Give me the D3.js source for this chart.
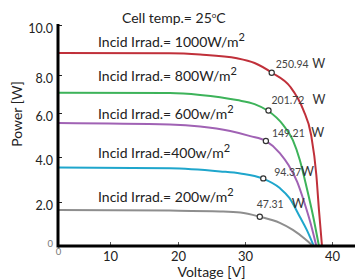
<!DOCTYPE html>
<html>
<head>
<meta charset="utf-8">
<script src="https://cdn.jsdelivr.net/npm/d3@7"></script>
<style>
  body { margin: 0; background: #fff; }
  svg { display: block; font-family: Lato, "Open Sans", sans-serif; }
</style>
</head>
<body>
<div id="chart"></div>
<script>
// tick values
var xTicks = [0, 10, 20, 30, 40];
var yTicks = [0, 2, 4, 6, 8, 10];

// curves: voltage [V] and value on the y axis
var v1000 = [0, 18.8, 23.3, 28.8, 31.1, 33.1, 35.2, 36.7, 37.6, 38.2, 38.5, 38.85];
var i1000 = [8.88, 8.87, 8.82, 8.67, 8.48, 8.09, 7.38, 6.16, 5.0, 3.2, 1.64, 0];
var v800 = [0, 18.8, 23.3, 28.8, 31.1, 32.6, 34.4, 35.5, 36.3, 37.1, 37.8, 38.5];
var i800 = [7.07, 7.05, 6.95, 6.68, 6.47, 6.13, 5.45, 4.77, 3.87, 2.62, 1.41, 0];
var v600 = [0, 18.8, 23.3, 27.8, 30.6, 32.4, 34.0, 35.0, 36.0, 36.8, 37.5, 38.2];
var i600 = [5.55, 5.48, 5.39, 5.18, 4.95, 4.73, 4.18, 3.64, 2.89, 2.0, 1.09, 0];
var v400 = [0, 18.8, 26.3, 29.3, 32.0, 34.0, 35.1, 36.3, 37.1, 37.9];
var i400 = [3.53, 3.50, 3.36, 3.27, 3.05, 2.62, 2.18, 1.33, 0.73, 0];
var v200 = [0, 18.8, 26.3, 29.3, 31.7, 34.0, 35.5, 36.9, 37.8];
var i200 = [1.64, 1.61, 1.57, 1.52, 1.33, 1.05, 0.73, 0.32, 0];

// maximum power points
var mppV = [33.07, 32.7, 32.4, 32.1, 31.7];
var mppI = [8.09, 6.13, 4.73, 3.05, 1.33];
var mppLabels = ["250.94", "201.72", "149.21", "94.37", "47.31"];

var irradLabels = ["Incid Irrad.= 1000W/m", "Incid Irrad.= 800W/m", "Incid Irrad.= 600w/m",
                   "Incid Irrad.=400w/m", "Incid Irrad.= 200w/m"];
var titleText = "Cell temp.= 25";

var curves = [[v1000, i1000], [v800, i800], [v600, i600], [v400, i400], [v200, i200]];
var colors = ["#c0303a", "#3db35a", "#a062b4", "#1fa6cc", "#8e8e8e"];

var W = 355, H = 279;
var svg = d3.select("#chart").append("svg")
            .attr("width", W)
            .attr("height", H);

// the original axes are not evenly spaced
var x = d3.scaleLinear().domain(xTicks).range([58, 110, 178, 245, 332]);
var y = d3.scaleLinear().domain(yTicks).range([246, 202, 157, 113, 75, 25]);

// y axis
var yAxis = svg.append("g")
               .attr("transform", "translate(" + x(0) + ",0)")
               .call(d3.axisLeft(y).tickValues(yTicks).tickSize(-4).tickPadding(5)
                       .tickFormat(function(d){ return d === 0 ? "0" : d3.format(".1f")(d); }));
yAxis.select(".domain").remove();
yAxis.selectAll("line").attr("stroke", "#222");
yAxis.selectAll("text").attr("font-size", 12.5).attr("fill", "#222")
     .attr("font-family", "Lato").attr("dy", "0.62em");
yAxis.selectAll(".tick").filter(function(d){ return d === 0; })
     .select("line").remove();
yAxis.selectAll(".tick").filter(function(d){ return d === 0; })
     .select("text").attr("font-size", 9.5).attr("fill", "#777").attr("dy", "0.1em");

// x axis
var xAxis = svg.append("g")
               .attr("transform", "translate(0," + y(0) + ")")
               .call(d3.axisBottom(x).tickValues(xTicks).tickSize(-4).tickPadding(6)
                       .tickFormat(d3.format("d")));
xAxis.select(".domain").remove();
xAxis.selectAll("line").attr("stroke", "#555");
xAxis.selectAll("text").attr("font-size", 13).attr("fill", "#222")
     .attr("font-family", "Lato").attr("dy", "0.68em");
xAxis.selectAll(".tick").filter(function(d){ return d === 0; })
     .select("line").remove();
xAxis.selectAll(".tick").filter(function(d){ return d === 0; })
     .select("text").attr("font-size", 9.5).attr("fill", "#777").attr("dy", "0.35em");

// curves
var line = d3.line()
             .x(function(d){ return x(d[0]); })
             .y(function(d){ return y(d[1]); })
             .curve(d3.curveMonotoneX);

svg.append("g").selectAll("path")
   .data(curves)
   .enter().append("path")
   .attr("d", function(c){ return line(d3.zip(c[0], c[1])); })
   .attr("fill", "none")
   .attr("stroke", function(c, i){ return colors[i]; })
   .attr("stroke-width", 2);

// thick axis lines
svg.append("line")
   .attr("x1", x(0)).attr("x2", W)
   .attr("y1", y(0)).attr("y2", y(0))
   .attr("stroke", "#000").attr("stroke-width", 3);
svg.append("line")
   .attr("x1", x(0)).attr("x2", x(0))
   .attr("y1", y(10) - 1).attr("y2", y(0) + 1.5)
   .attr("stroke", "#000").attr("stroke-width", 3);

// max power markers
svg.append("g").selectAll("circle")
   .data(mppV)
   .enter().append("circle")
   .attr("cx", function(d){ return x(d); })
   .attr("cy", function(d, i){ return y(mppI[i]); })
   .attr("r", 2.6)
   .attr("fill", "#fff")
   .attr("stroke", "#333")
   .attr("stroke-width", 1.2);

// value labels
var labelOff = [[4, -5], [3, -6.5], [6, -4], [11, -2.5], [-3, -9]];
var wGap = [3.5, 8, 6.5, 0, 8];
var vl = svg.append("g").selectAll("text")
            .data(mppLabels)
            .enter().append("text")
            .attr("x", function(d, i){ return x(mppV[i]) + labelOff[i][0]; })
            .attr("y", function(d, i){ return y(mppI[i]) + labelOff[i][1]; })
            .attr("font-size", 10.5)
            .attr("fill", "#444");
vl.append("tspan").text(function(d){ return d; });
vl.append("tspan")
  .attr("dx", function(d, i){ return wGap[i]; })
  .attr("font-size", 12.5)
  .attr("fill", "#333")
  .text("W");

// irradiance labels, baselines in pixels
var irradBase = [47, 81, 119, 158, 202];
var il = svg.append("g").selectAll("text")
            .data(irradLabels)
            .enter().append("text")
            .attr("x", 98)
            .attr("y", function(d, i){ return irradBase[i]; })
            .attr("font-size", 14)
            .attr("fill", "#222");
il.append("tspan").text(function(d){ return d; });
il.append("tspan").attr("dy", -6).attr("font-size", 11).text("2");

// title
var t = svg.append("text")
           .attr("x", 122)
           .attr("y", 23)
           .attr("font-size", 14)
           .attr("fill", "#222");
t.append("tspan").text(titleText);
t.append("tspan").attr("dy", -5).attr("font-size", 8).text("o");
t.append("tspan").attr("dy", 5).text("C");

// axis titles
svg.append("text")
   .attr("x", x(25))
   .attr("y", 277)
   .attr("text-anchor", "middle")
   .attr("font-size", 14)
   .attr("fill", "#222")
   .text("Voltage [V]");
svg.append("text")
   .attr("transform", "translate(22,114) rotate(-90)")
   .attr("text-anchor", "middle")
   .attr("font-size", 14)
   .attr("fill", "#222")
   .text("Power [W]");
</script>
</body>
</html>
